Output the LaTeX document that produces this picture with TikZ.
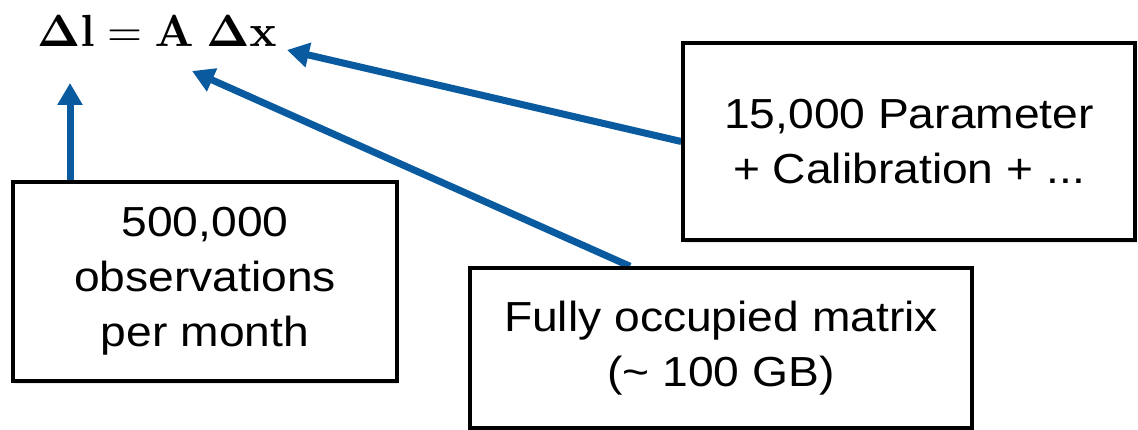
\documentclass[tikz,border=0pt]{standalone}
\usepackage[no-math]{fontspec}
\setmainfont{Liberation Sans}[FakeStretch=1.1]
\usetikzlibrary{arrows.meta,shadows,backgrounds}
\definecolor{arrowblue}{RGB}{10,90,160}
\begin{document}
\begin{tikzpicture}[x=1pt,y=-1pt,
  infobox/.style={draw=black, line width=3.5pt, fill=white, align=center,
    inner sep=0pt, font=\fontsize{42}{55}\selectfont,
    drop shadow={opacity=0.18, shadow xshift=2pt, shadow yshift=-3pt}},
  pointer/.style={draw=arrowblue, line width=7pt,
    -{Triangle[width=24pt,length=22pt]}}]
  \useasboundingbox (0,0) rectangle (1138,430);

  % the equation, set at 10pt and enlarged
  \node[anchor=base, inner sep=0pt] (eq) at (157,47)
    {\scalebox{4.5}{$\mathbf{\Delta l} = \mathbf{A}\;\mathbf{\Delta x}$}};

  % arrow tips pointing at the terms
  \coordinate (tipL) at (70,83);
  \coordinate (tipA) at (192,71);
  \coordinate (tipX) at (287,50);

  % boxes
  \node[infobox, minimum width=384pt, minimum height=199pt] (obs) at (205,281.5)
    {500,000\\observations\\per month};
  \node[infobox, minimum width=502pt, minimum height=160pt] (mat) at (721,348)
    {Fully occupied matrix\\(\textasciitilde{} 100 GB)};
  \node[infobox, minimum width=452pt, minimum height=197pt] (par) at (909,141.5)
    {15,000 Parameter\\+ Calibration + ...};

  % arrows, behind the boxes
  \begin{scope}[on background layer]
    \draw[pointer] ([xshift=-135pt]obs.north) -- (tipL);
    \draw[pointer] ([xshift=-91pt]mat.north) -- (tipA);
    \draw[pointer] (par.west) -- (tipX);
  \end{scope}
\end{tikzpicture}
\end{document}
